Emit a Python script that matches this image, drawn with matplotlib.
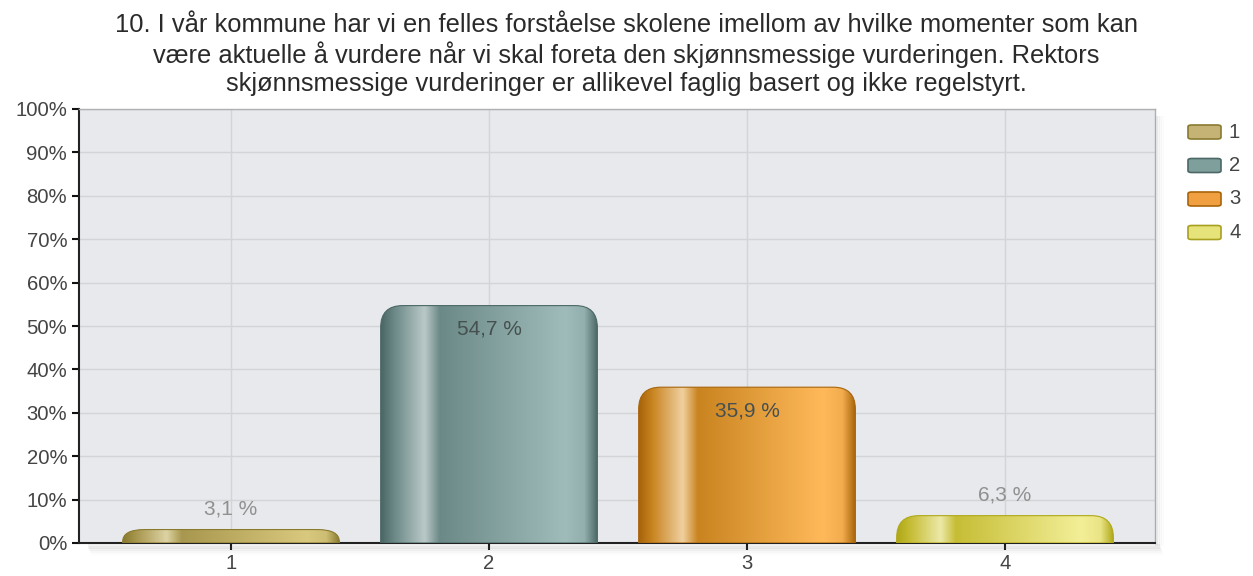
import numpy as np
import matplotlib.pyplot as plt
from matplotlib.path import Path
from matplotlib.patches import PathPatch, FancyBboxPatch, Rectangle
from matplotlib.colors import to_rgb

plt.rcParams['font.family'] = ['Liberation Sans', 'DejaVu Sans']

# Data
categories = ['1', '2', '3', '4']
values = [3.1, 54.7, 35.9, 6.3]
value_labels = ['3,1 %', '54,7 %', '35,9 %', '6,3 %']
title = ("10. I vår kommune har vi en felles forståelse skolene imellom av hvilke momenter som kan\n"
         "være aktuelle å vurdere når vi skal foreta den skjønnsmessige vurderingen. Rektors\n"
         "skjønnsmessige vurderinger er allikevel faglig basert og ikke regelstyrt.")

# (dark edge, highlight, mid, light) for each bar
bar_colors = [
    ('#8a7a30', '#ddd3a4', '#a8974e', '#d9c97e'),
    ('#4b6866', '#bac9c8', '#6b8987', '#9fbcbb'),
    ('#a8640a', '#f0d0a0', '#c98420', '#ffb95a'),
    ('#b0a818', '#ece9a8', '#c6bd35', '#f3ef98'),
]
legend_colors = ['#c4b375', '#7f9f9d', '#f0a040', '#e6e37a']
legend_edges = ['#8a7a30', '#4b6866', '#a8640a', '#a8a020']

fig = plt.figure(figsize=(12.53, 5.76), dpi=100)
ax = fig.add_axes([79 / 1253, 33 / 576, 1076 / 1253, 434 / 576])
ax.set_facecolor('#e7e9ec')

x = np.arange(1, len(categories) + 1)
width = 0.84
px_x = 258.0
px_y = 4.34


def gradient(cols, n=200):
    dark, hi, mid, light = [np.array(to_rgb(c)) for c in cols]
    stops = [0.0, 0.06, 0.2, 0.27, 0.85, 0.94, 1.0]
    cs = [dark, mid, hi, mid, light, light * 0.85 + dark * 0.15, dark]
    t = np.linspace(0, 1, n)
    img = np.zeros((1, n, 3))
    for k in range(3):
        img[0, :, k] = np.interp(t, stops, [c[k] for c in cs])
    return img


for xi, v, cols in zip(x, values, bar_colors):
    x0, x1 = xi - width / 2, xi + width / 2
    rx = 22 / px_x
    ry = min(22 / px_y, v * 0.9)
    verts = [(x0, 0), (x0, v - ry), (x0, v), (x0 + rx, v), (x1 - rx, v),
             (x1, v), (x1, v - ry), (x1, 0), (x0, 0)]
    codes = [Path.MOVETO, Path.LINETO, Path.CURVE3, Path.CURVE3, Path.LINETO,
             Path.CURVE3, Path.CURVE3, Path.LINETO, Path.CLOSEPOLY]
    patch = PathPatch(Path(verts, codes), facecolor='none', edgecolor=cols[0],
                      lw=0.8, zorder=4)
    ax.add_patch(patch)
    im = ax.imshow(gradient(cols), extent=(x0, x1, 0, v), aspect='auto',
                   zorder=3, interpolation='bilinear')
    im.set_clip_path(patch)

ax.set_xlim(1 - 152 / 258, 4 + 150 / 258)
ax.set_ylim(0, 100)

# value labels
for xi, v, lab in zip(x, values, value_labels):
    if v > 20:
        ax.annotate(lab, (xi, v), xytext=(0, -17), textcoords='offset points',
                    ha='center', va='center', fontsize=15, color='#465050', zorder=5)
    else:
        ax.annotate(lab, (xi, v), xytext=(0, 15), textcoords='offset points',
                    ha='center', va='center', fontsize=15, color='#909090', zorder=5)

ax.set_yticks(np.arange(0, 101, 10))
ax.set_yticklabels([f'{t}%' for t in range(0, 101, 10)])
ax.set_xticks(x)
ax.set_xticklabels(categories)
ax.grid(True, color='#d2d4d6', lw=1)
ax.set_axisbelow(True)
ax.tick_params(axis='both', labelsize=14.6, colors='#111111', labelcolor='#444444',
               length=5, width=1.5, direction='out')
ax.tick_params(axis='x', pad=3)
for s in ['top', 'right']:
    ax.spines[s].set_color('#b0b0b0')
    ax.spines[s].set_linewidth(1)
for s in ['left', 'bottom']:
    ax.spines[s].set_color('#222222')
    ax.spines[s].set_linewidth(1.5)

# soft shadow along bottom / right
for i, a in enumerate([0.10, 0.07, 0.04, 0.02]):
    fig.patches.append(Rectangle(((88 + i) / 1253, (27 - 2 * i) / 576), (1072) / 1253, 5 / 576,
                                 transform=fig.transFigure, color='#808080', alpha=a,
                                 lw=0, zorder=0))
    fig.patches.append(Rectangle(((1155 + 2 * i) / 1253, 30 / 576), 3 / 1253, 430 / 576,
                                 transform=fig.transFigure, color='#808080', alpha=a,
                                 lw=0, zorder=0))

fig.text(0.5, 1 - 13 / 576, title, ha='center', va='top', fontsize=18.4,
         color='#2a2a2a', linespacing=1.2)

# legend
for i, (lab, fc, ec) in enumerate(zip(categories, legend_colors, legend_edges)):
    yc = 576 - (132 + 33.5 * i)
    fig.patches.append(FancyBboxPatch((1188 / 1253, (yc - 7) / 576), 33 / 1253, 14 / 576,
                                      boxstyle='round,pad=0,rounding_size=0.003',
                                      transform=fig.transFigure, facecolor=fc,
                                      edgecolor=ec, lw=1.2))
    fig.text(1229 / 1253, yc / 576, lab, ha='left', va='center', fontsize=14.6,
             color='#444444')

fig.savefig('out.png', dpi=100)
